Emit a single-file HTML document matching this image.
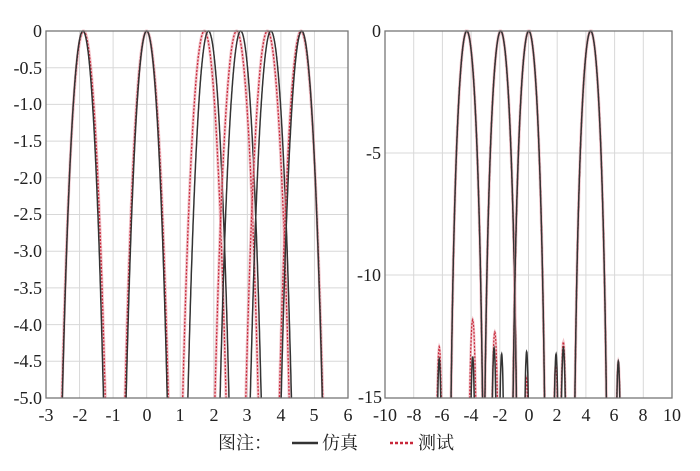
<!DOCTYPE html>
<html><head><meta charset="utf-8"><style>
html,body{margin:0;padding:0;background:#fff;width:700px;height:471px;overflow:hidden;position:relative;}
svg{display:block;position:absolute;left:0;top:0;}
text{font-family:"Liberation Serif","Noto Serif CJK SC",serif;font-size:18px;fill:#222;}
</style></head><body>
<svg id="s" width="700" height="471" viewBox="0 0 700 471">
<defs>
<clipPath id="cl"><rect x="46" y="28" width="302" height="370"/></clipPath>
<clipPath id="cr"><rect x="385" y="28" width="287" height="370"/></clipPath>
</defs>
<g id="grid" stroke="#d8d8d8" stroke-width="1"></g>
<g id="curves"></g>
<rect x="46" y="31" width="302" height="367" fill="none" stroke="#777" stroke-width="1.3"/>
<rect x="385" y="31" width="287" height="367" fill="none" stroke="#777" stroke-width="1.3"/>
<g text-anchor="end">
<text x="42" y="37">0</text><text x="42" y="74">-0.5</text><text x="42" y="110">-1.0</text>
<text x="42" y="147">-1.5</text><text x="42" y="184">-2.0</text><text x="42" y="220">-2.5</text>
<text x="42" y="257">-3.0</text><text x="42" y="294">-3.5</text><text x="42" y="331">-4.0</text>
<text x="42" y="367">-4.5</text><text x="42" y="404">-5.0</text>
<text x="381" y="37">0</text><text x="381" y="159">-5</text><text x="381" y="281">-10</text><text x="382" y="403">-15</text>
</g>
<g text-anchor="middle">
<text x="46" y="421">-3</text><text x="80" y="421">-2</text><text x="113" y="421">-1</text><text x="147" y="421">0</text>
<text x="180" y="421">1</text><text x="214" y="421">2</text><text x="247" y="421">3</text><text x="281" y="421">4</text>
<text x="314" y="421">5</text><text x="348" y="421">6</text>
<text x="385" y="421">-10</text><text x="414" y="421">-8</text><text x="442" y="421">-6</text><text x="471" y="421">-4</text>
<text x="500" y="421">-2</text><text x="529" y="421">0</text><text x="557" y="421">2</text><text x="586" y="421">4</text>
<text x="614" y="421">6</text><text x="643" y="421">8</text><text x="672" y="421">10</text>
</g>
<text x="218" y="449">图注：</text>
<line x1="292" y1="443" x2="318" y2="443" stroke="#333" stroke-width="2.5"/>
<text x="322" y="449">仿真</text>
<line x1="390" y1="443" x2="415" y2="443" stroke="#c8283a" stroke-width="2.5" stroke-dasharray="3,2"/>
<text x="418" y="449">测试</text>
<script>
var NS="http://www.w3.org/2000/svg";
var grid=document.getElementById('grid'),cv=document.getElementById('curves');
function ln(p,x1,y1,x2,y2){var l=document.createElementNS(NS,'line');l.setAttribute('x1',x1);l.setAttribute('y1',y1);l.setAttribute('x2',x2);l.setAttribute('y2',y2);p.appendChild(l);}
for(var i=1;i<9;i++){var x=46+i*302/9;ln(grid,x,31,x,398);}
for(var i=1;i<10;i++){var y=31+i*36.7;ln(grid,46,y,348,y);}
for(var i=1;i<10;i++){var x=385+i*28.7;ln(grid,x,31,x,398);}
[153,275].forEach(function(y){ln(grid,385,y,672,y);});
function sinc(u){if(Math.abs(u)<1e-6)return 1;return Math.sin(Math.PI*u)/(Math.PI*u);}
function path(pts,col,w,dash,clip,op){var p=document.createElementNS(NS,'path');p.setAttribute('d','M'+pts.map(function(a){return a[0].toFixed(1)+','+a[1].toFixed(1)}).join('L'));p.setAttribute('fill','none');p.setAttribute('stroke',col);p.setAttribute('stroke-width',w);if(dash)p.setAttribute('stroke-dasharray',dash);p.setAttribute('clip-path','url(#'+clip+')');if(op)p.setAttribute('opacity',op);cv.appendChild(p);}
function lobeL2(c,s,col,w,dash,op){var pts=[];for(var v=c-0.99*s;v<=c+0.99*s;v+=0.005){var d=20*Math.log10(Math.abs(sinc((v-c)/s))+1e-9);if(d<-5.2)continue;pts.push([46+(v+3)*33.56,31-d*73.4]);}path(pts,col,w,dash,'cl',op);}
[[-1.9,-1.88],[0,0],[1.84,1.72],[2.8,2.68],[3.7,3.6],[4.62,4.6]].forEach(function(c){
lobeL2(c[1],1.16,'#e8a0aa',3,null,0.6);
lobeL2(c[1],1.16,'#c8283a',1.3,'2,1.5');
lobeL2(c[0],1.1,'#333',1.5);
});
function X(v){return 385+(v+10)*14.35;}function Y(d){return 31-d*24.47;}
function lobeR(c,s,col,w,dash,op){var pts=[];for(var v=c-0.99*s;v<=c+0.99*s;v+=0.005){var d=20*Math.log10(Math.abs(sinc((v-c)/s))+1e-9);if(d<-15.4)continue;pts.push([X(v),Y(d)]);}path(pts,col,w,dash,'cr',op);}
function bump(c,pk,hw,col,w,dash,op){var pts=[];for(var t=-1;t<=1.001;t+=0.05){var d=pk-(15.3-pk)*(1-Math.sqrt(Math.max(0,1-t*t)));pts.push([X(c)+t*hw,Y(d)]);}path(pts,col,w,dash,'cr',op);}
[-4.3,-1.94,0.02,4.33].forEach(function(c){lobeR(c,1.3,'#e8a0aa',3,null,0.6);lobeR(c,1.3,'#c8283a',1.3,'2,1.5');lobeR(c,1.3,'#333',1.5);});
[[-6.22,-12.9,5.5],[-3.89,-11.8,6.5],[-2.35,-12.3,6],[-0.13,-14.2,4.5],[1.9,-13.7,5],[2.43,-12.7,5.5],[6.26,-13.5,5]].forEach(function(b){bump(b[0],b[1],b[2],'#e8a0aa',2.5,null,0.6);bump(b[0],b[1],b[2],'#c8283a',1.2,'2,1.5');});
[[-6.22,-13.4,4.5],[-3.89,-13.3,4.5],[-2.4,-12.95,4.5],[-1.87,-13.2,4.5],[-0.13,-13.1,4.5],[1.92,-13.2,4.5],[2.43,-12.95,5],[6.26,-13.5,4.5]].forEach(function(b){bump(b[0],b[1],b[2],'#333',1.5);});
</script>
</svg>
</body></html>
